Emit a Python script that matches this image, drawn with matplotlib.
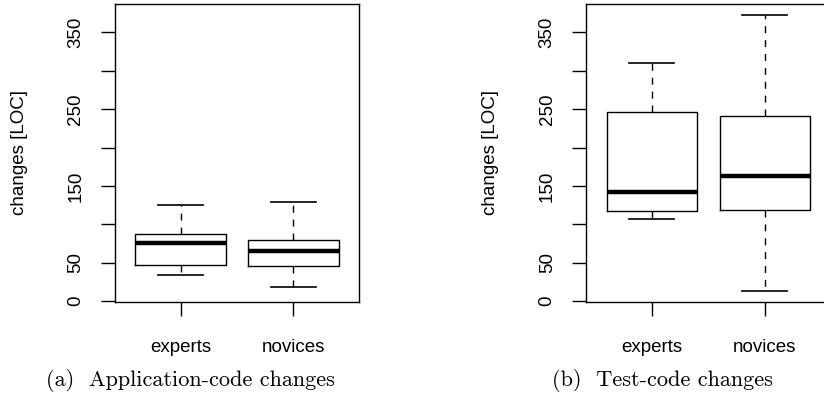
import matplotlib
matplotlib.use("Agg")
import matplotlib.pyplot as plt

plt.rcParams['font.family'] = ['Liberation Sans', 'DejaVu Sans']

groups = ["experts", "novices"]

# Application-code changes
app_whislo = [34.7, 19.1]
app_q1 = [46.8, 45.5]
app_med = [75.8, 65.0]
app_q3 = [87.5, 79.7]
app_whishi = [124.8, 129.1]

# Test-code changes
test_whislo = [106.5, 13.0]
test_q1 = [117.8, 118.7]
test_med = [142.1, 163.7]
test_q3 = [246.4, 240.8]
test_whishi = [310.1, 372.5]

yticks = [0, 50, 100, 150, 200, 250, 300, 350]
ytick_labels = ["0", "50", "", "150", "", "250", "", "350"]
captions = ["(a)  Application-code changes", "(b)  Test-code changes"]

W, H = 824, 394
fig = plt.figure(figsize=(W / 100, H / 100), dpi=100)


def make_stats(lo, q1, med, q3, hi):
    return [dict(whislo=a, q1=b, med=c, q3=d, whishi=e, label=g)
            for a, b, c, d, e, g in zip(lo, q1, med, q3, hi, groups)]


def panel(left_px, stats):
    ax = fig.add_axes([left_px / W, (H - 302) / H, 244 / W, 298 / H])
    ax.bxp(stats, positions=[1, 2], widths=0.8, capwidths=0.4,
           showfliers=False, patch_artist=False,
           boxprops=dict(color='black', linewidth=1.0),
           whiskerprops=dict(color='black', linewidth=1.0, linestyle=(0, (5, 5))),
           capprops=dict(color='black', linewidth=1.2),
           medianprops=dict(color='black', linewidth=3.2, solid_capstyle='butt'))
    ax.set_xlim(0.42, 2.58)
    ax.set_ylim(-1, 387)
    ax.set_yticks(yticks)
    ax.set_yticklabels(ytick_labels, rotation=90, va='center', fontsize=13.5)
    ax.set_xticks([1, 2])
    ax.set_xticklabels(groups, fontsize=13.5)
    ax.tick_params(axis='both', direction='out', length=10, width=1.0, color='black')
    ax.tick_params(axis='y', pad=12)
    ax.tick_params(axis='x', pad=17)
    ax.set_ylabel("changes [LOC]", fontsize=13.5)
    ax.yaxis.set_label_coords(-0.357, 0.5)
    for s in ax.spines.values():
        s.set_linewidth(1.0)
    return ax


panel(115, make_stats(app_whislo, app_q1, app_med, app_q3, app_whishi))
panel(586.3, make_stats(test_whislo, test_q1, test_med, test_q3, test_whishi))

fig.text(190.5 / W, 1 - 380 / H, captions[0], ha='center', va='center',
         fontsize=16, family=['cmr10', 'DejaVu Serif'])
fig.text(662 / W, 1 - 380 / H, captions[1], ha='center', va='center',
         fontsize=16, family=['cmr10', 'DejaVu Serif'])

fig.savefig("out.png", dpi=100)
